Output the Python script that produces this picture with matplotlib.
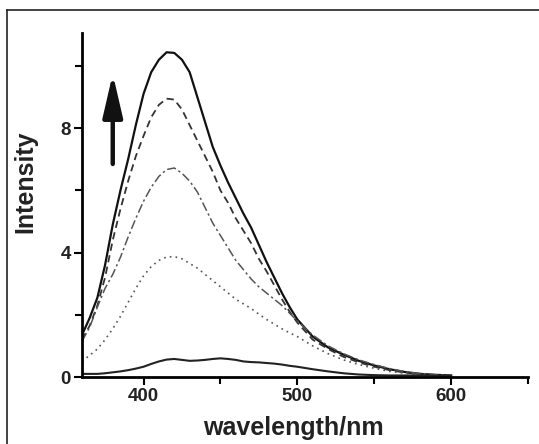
import numpy as np
import matplotlib
matplotlib.use('Agg')
import matplotlib.pyplot as plt
from matplotlib.lines import Line2D
from matplotlib.ticker import MultipleLocator

plt.rcParams['font.family'] = ['Liberation Sans', 'DejaVu Sans']

# wavelength grid (nm)
wl = [360, 365, 370, 375, 380, 385, 390, 395, 400, 405, 410, 415, 420, 425,
      430, 435, 440, 445, 450, 455, 460, 465, 470, 475, 480, 485, 490, 495,
      500, 510, 520, 530, 540, 550, 560, 570, 580, 590, 600]

# spectra, top to bottom
solid_top = [1.35, 1.9, 2.55, 3.6, 4.9, 6.0, 7.0, 8.1, 9.1, 9.8, 10.2, 10.44,
             10.42, 10.2, 9.8, 9.0, 8.2, 7.4, 6.8, 6.25, 5.75, 5.25, 4.8,
             4.25, 3.7, 3.2, 2.7, 2.25, 1.85, 1.3, 0.95, 0.72, 0.52, 0.37,
             0.25, 0.16, 0.1, 0.07, 0.05]
dashed = [1.2, 1.65, 2.3, 3.2, 4.4, 5.4, 6.3, 7.1, 7.75, 8.35, 8.75, 8.95,
          8.92, 8.6, 8.1, 7.6, 7.1, 6.6, 6.0, 5.6, 5.1, 4.7, 4.3, 3.8, 3.4,
          2.95, 2.5, 2.1, 1.75, 1.2, 0.9, 0.65, 0.47, 0.33, 0.22, 0.14, 0.09,
          0.06, 0.04]
dashdot = [1.15, 1.6, 2.25, 2.85, 3.3, 3.85, 4.5, 5.1, 5.65, 6.1, 6.45, 6.67,
           6.72, 6.55, 6.3, 5.95, 5.45, 4.95, 4.55, 4.15, 3.75, 3.45, 3.15,
           2.9, 2.7, 2.5, 2.3, 2.05, 1.8, 1.35, 1.0, 0.75, 0.55, 0.4, 0.27,
           0.17, 0.11, 0.07, 0.05]
dotted = [0.5, 0.7, 0.9, 1.2, 1.55, 1.95, 2.4, 2.85, 3.25, 3.55, 3.75, 3.86,
          3.87, 3.8, 3.65, 3.5, 3.3, 3.1, 2.9, 2.7, 2.5, 2.35, 2.2, 2.02,
          1.85, 1.7, 1.55, 1.42, 1.3, 1.0, 0.75, 0.55, 0.4, 0.28, 0.18, 0.12,
          0.08, 0.05, 0.04]
solid_low = [0.1, 0.1, 0.1, 0.12, 0.15, 0.18, 0.22, 0.27, 0.33, 0.42, 0.5,
             0.56, 0.58, 0.55, 0.52, 0.53, 0.55, 0.58, 0.6, 0.58, 0.55, 0.5,
             0.48, 0.47, 0.45, 0.43, 0.4, 0.36, 0.33, 0.25, 0.18, 0.12, 0.08,
             0.06, 0.05, 0.05, 0.05, 0.04, 0.04]

W, H = 539, 444
fig = plt.figure(figsize=(W / 100, H / 100), dpi=100)
ax = fig.add_axes([82 / W, 1 - 377 / H, (528 - 82) / W, (377 - 33) / H])

ax.plot(wl, solid_top, color='#111111', lw=1.6, ls='-')
ax.plot(wl, dashed, color='#333333', lw=1.3, ls=(0, (4, 2.5)))
ax.plot(wl, dashdot, color='#555555', lw=1.1, ls=(0, (6, 2, 1.5, 2)))
ax.plot(wl, dotted, color='#555555', lw=1.2, ls=(0, (1, 2.5)))
ax.plot(wl, solid_low, color='#222222', lw=1.5, ls='-')

# arrow showing the increase
ax.annotate('', xy=(380, 9.75), xytext=(380, 6.85),
            arrowprops=dict(arrowstyle='-|>,head_length=2.6,head_width=0.6',
                            mutation_scale=10, lw=3.2, color='#111111',
                            shrinkA=0, shrinkB=0))

ax.set_xlim(360, 650)
ax.set_ylim(0, 11.06)
ax.xaxis.set_major_locator(MultipleLocator(100))
ax.xaxis.set_minor_locator(MultipleLocator(50))
ax.yaxis.set_major_locator(MultipleLocator(4))
ax.yaxis.set_minor_locator(MultipleLocator(2))

for s in ['top', 'right']:
    ax.spines[s].set_visible(False)
for s in ['left', 'bottom']:
    ax.spines[s].set_linewidth(2)

ax.tick_params(which='major', direction='out', length=6, width=1.5,
               labelsize=13.5, pad=2)
ax.tick_params(which='minor', direction='out', length=5, width=1.5)
for lab in ax.get_xticklabels() + ax.get_yticklabels():
    lab.set_fontweight('bold')
    lab.set_color('#222222')

ax.set_xlabel('wavelength/nm', fontsize=18, fontweight='bold',
              color='#222222')
ax.set_ylabel('Intensity', fontsize=18, fontweight='bold',
              color='#222222')
ax.xaxis.set_label_coords(0.475, -0.113)
ax.yaxis.set_label_coords(-0.10, 0.567)

# the cropped frame around the figure
fig.add_artist(Line2D([7 / W, 7 / W], [0, 1 - 10 / H], color='#222222',
                      lw=1.2, transform=fig.transFigure))
fig.add_artist(Line2D([7 / W, 1], [1 - 10 / H, 1 - 10 / H], color='#222222',
                      lw=1.2, transform=fig.transFigure))

fig.savefig('out.png', dpi=100)
